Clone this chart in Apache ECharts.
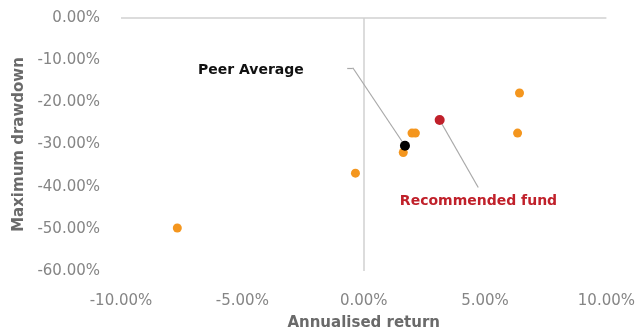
<!DOCTYPE html>
<html>
<head>
<meta charset="utf-8">
<script src="https://cdn.jsdelivr.net/npm/echarts@6/dist/echarts.min.js"></script>
<style>
  html, body { margin: 0; padding: 0; background: #fff; }
  #chart { width: 638px; height: 336px; }
</style>
</head>
<body>
<div id="chart"></div>
<script>
// Annualised return (%) vs maximum drawdown (%) for each fund in the peer group
const fundReturns   = [6.42, 6.34, 1.99, 2.13, 1.63, -0.34, -7.68];
const fundDrawdowns = [-17.8, -27.3, -27.3, -27.3, -31.9, -36.8, -49.8];

const peerAverage = [1.70, -30.3];
const recommendedFund = [3.13, -24.2];

const xTicks = { min: -10, max: 10, interval: 5 };
const yTicks = { min: -60, max: 0, interval: 10 };

// callout text anchors and leader-line bends, in data units
const peerLabel = { text: 'Peer Average', at: [-4.65, -12.3], elbow: [[-0.68, -11.8], [-0.45, -11.8]] };
const fundLabel = { text: 'Recommended fund', at: [4.73, -43.6], lineEnd: [4.72, -40.2] };

const tickGrey = '#858585';
const titleGrey = '#6a6a6a';
const zeroLine = '#d0d0d0';
const leader = '#a9a9a9';
const font = '"DejaVu Sans", "Open Sans", sans-serif';

const fundPoints = fundReturns.map((r, i) => [r, fundDrawdowns[i]]);
const pct = v => v.toFixed(2) + '%';

const chart = echarts.init(document.getElementById('chart'), null, { renderer: 'canvas' });

chart.setOption({
  animation: false,
  grid: { left: 121, right: 31, top: 18, bottom: 65 },
  xAxis: {
    type: 'value',
    min: xTicks.min, max: xTicks.max, interval: xTicks.interval,
    axisLine: { show: false },
    axisTick: { show: false },
    splitLine: { show: false },
    axisLabel: { formatter: pct, color: tickGrey, fontSize: 15, fontFamily: font, margin: 23 },
    name: 'Annualised return',
    nameLocation: 'middle',
    nameGap: 45,
    nameTextStyle: { color: titleGrey, fontSize: 15, fontWeight: 'bold', fontFamily: font }
  },
  yAxis: {
    type: 'value',
    min: yTicks.min, max: yTicks.max, interval: yTicks.interval,
    axisLine: { show: false },
    axisTick: { show: false },
    splitLine: { show: false },
    axisLabel: { formatter: pct, color: tickGrey, fontSize: 15, fontFamily: font, margin: 21 },
    name: 'Maximum drawdown',
    nameLocation: 'middle',
    nameGap: 93,
    nameTextStyle: { color: titleGrey, fontSize: 15, fontWeight: 'bold', fontFamily: font }
  },
  series: [
    {
      // zero lines plus leader lines for the two callouts
      type: 'line',
      data: [],
      z: 1,
      markLine: {
        silent: true,
        z: 1,
        symbol: 'none',
        label: { show: false },
        lineStyle: { color: zeroLine, type: 'solid', width: 1.5 },
        data: [
          [{ coord: [xTicks.min, 0] }, { coord: [xTicks.max, 0] }],
          [{ coord: [0, yTicks.min] }, { coord: [0, yTicks.max] }],
          [{ coord: peerLabel.elbow[0], lineStyle: { color: leader, width: 1.2 } }, { coord: peerLabel.elbow[1] }],
          [{ coord: peerLabel.elbow[1], lineStyle: { color: leader, width: 1.2 } }, { coord: peerAverage }],
          [{ coord: recommendedFund, lineStyle: { color: leader, width: 1.2 } }, { coord: fundLabel.lineEnd }]
        ]
      },
      markPoint: {
        silent: true,
        z: 6,
        symbol: 'circle',
        symbolSize: 0,
        data: [
          { coord: peerLabel.at, label: { show: true, position: 'inside', formatter: peerLabel.text, color: '#111111', fontSize: 14, fontWeight: 'bold', fontFamily: font } },
          { coord: fundLabel.at, label: { show: true, position: 'inside', formatter: fundLabel.text, color: '#c0202a', fontSize: 14, fontWeight: 'bold', fontFamily: font } }
        ]
      }
    },
    {
      name: 'Funds',
      type: 'scatter',
      symbolSize: 9,
      itemStyle: { color: '#f4961e', opacity: 1 },
      data: fundPoints,
      z: 3
    },
    {
      name: 'Recommended fund',
      type: 'scatter',
      symbolSize: 10,
      itemStyle: { color: '#c0202a', opacity: 1 },
      data: [recommendedFund],
      z: 4
    },
    {
      name: 'Peer Average',
      type: 'scatter',
      symbolSize: 10,
      itemStyle: { color: '#000000', opacity: 1 },
      data: [peerAverage],
      z: 5
    }
  ]
});
</script>
</body>
</html>
